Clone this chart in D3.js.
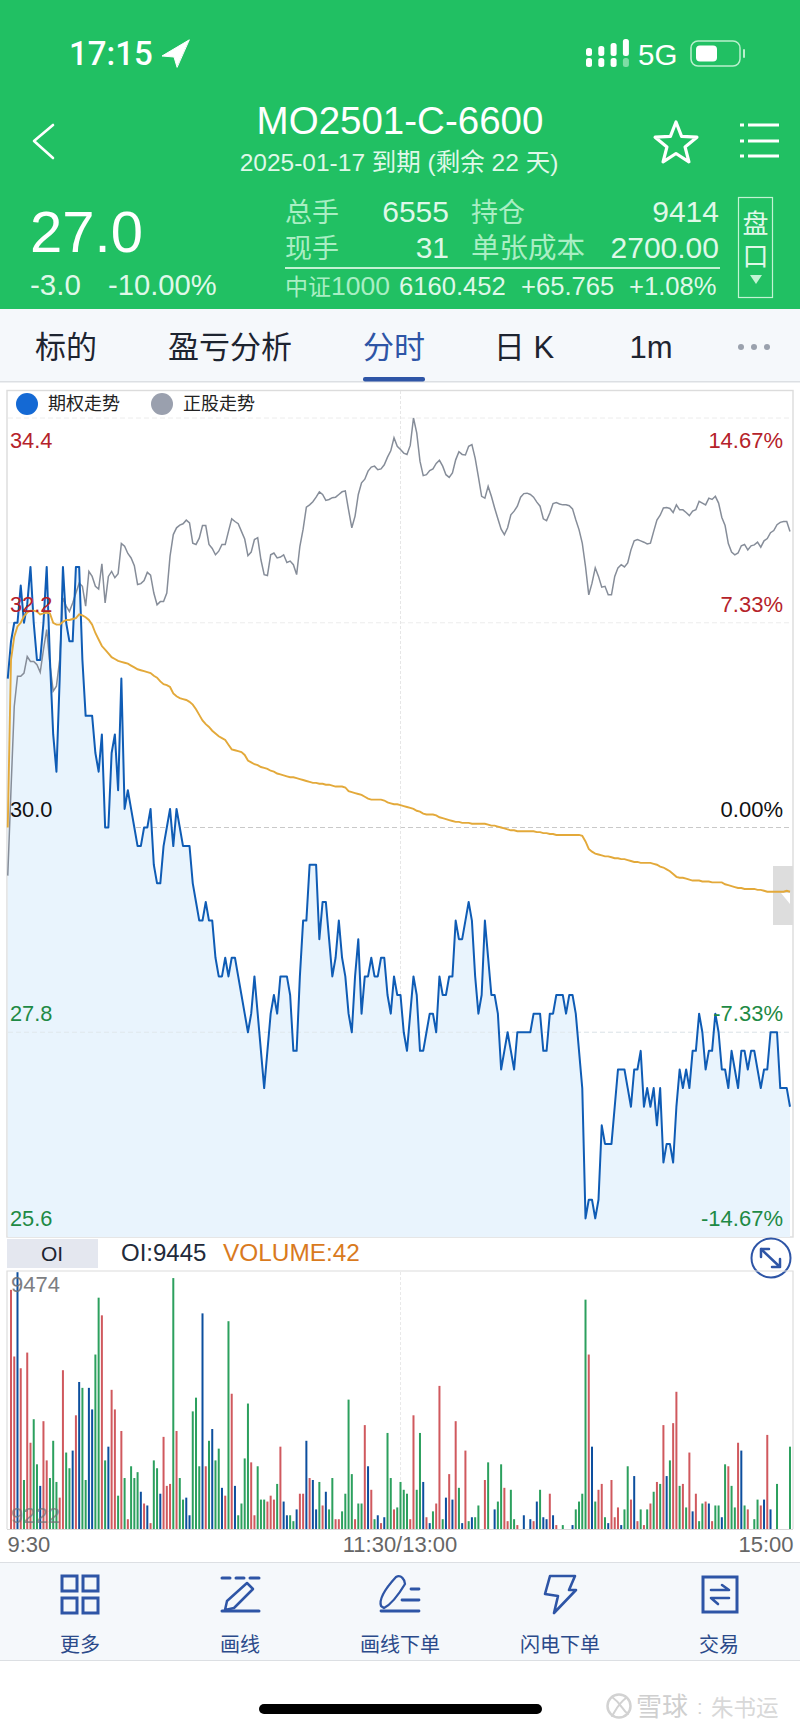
<!DOCTYPE html>
<html><head><meta charset="utf-8">
<script src="https://cdn.jsdelivr.net/npm/d3@7"></script>
<style>html,body{margin:0;padding:0;background:#fff}svg{display:block}
text{font-family:"Liberation Sans","Noto Sans CJK SC",sans-serif}</style></head>
<body><svg id="c" width="800" height="1731"></svg>
<script>
// first entry of each line series is the pre-open reading
const optionPrice=[31.6,32.0,32.2,32.2,32.6,32.2,32.4,32.8,32.2,31.8,31.8,32.2,32.8,31.8,31.0,30.6,31.6,32.8,32.2,32.0,32.0,32.8,32.8,31.8,31.2,31.2,31.2,30.8,30.6,31.0,30.0,30.0,30.8,31.0,30.4,31.6,30.2,30.4,30.2,30.0,29.8,29.8,30.0,30.0,30.2,29.6,29.4,29.4,29.8,30.0,30.2,29.8,30.2,30.0,29.8,29.8,29.8,29.4,29.2,29.0,29.0,29.2,29.0,29.0,28.6,28.4,28.4,28.6,28.4,28.6,28.6,28.4,28.2,28.0,27.8,28.0,28.4,28.0,27.6,27.2,27.6,28.0,28.2,28.0,28.4,28.4,28.4,28.2,27.6,27.6,28.4,29.0,29.0,29.6,29.6,29.6,28.8,29.2,29.2,28.8,28.4,28.6,29.0,28.6,28.4,28.0,27.8,28.4,28.8,28.0,28.4,28.4,28.6,28.4,28.4,28.6,28.6,28.2,28.0,28.4,28.2,28.2,27.8,27.6,28.0,28.4,28.2,27.6,27.6,27.8,28.0,28.0,27.8,28.4,28.2,28.2,28.4,28.4,29.0,28.8,28.8,29.0,29.2,29.0,28.4,28.0,28.2,29.0,28.6,28.2,28.2,28.0,27.4,27.6,27.8,27.6,27.4,27.8,27.8,27.8,27.8,27.8,28.0,28.0,28.0,27.6,27.6,28.0,28.0,28.2,28.2,28.2,28.0,28.2,28.2,28.0,27.6,27.2,25.8,26.0,26.0,25.8,26.0,26.8,26.6,26.6,26.6,27.0,27.4,27.4,27.4,27.2,27.0,27.4,27.4,27.6,27.0,27.2,27.0,27.2,26.8,27.2,26.4,26.6,26.6,26.4,27.0,27.4,27.2,27.4,27.2,27.6,27.6,28.0,27.8,27.4,27.6,27.6,28.0,27.8,27.4,27.4,27.2,27.6,27.4,27.2,27.6,27.6,27.4,27.6,27.6,27.4,27.2,27.4,27.4,27.8,27.8,27.8,27.2,27.2,27.2,27.0];
const averagePrice=[30.0,31.8,32.05,32.16,32.2,32.27,32.31,32.33,32.33,32.32,32.29,32.3,32.31,32.3,32.2,32.18,32.18,32.21,32.23,32.23,32.24,32.25,32.29,32.28,32.26,32.23,32.18,32.09,32.02,31.95,31.91,31.87,31.83,31.81,31.79,31.78,31.77,31.76,31.74,31.72,31.7,31.69,31.68,31.67,31.66,31.63,31.61,31.57,31.54,31.53,31.51,31.44,31.41,31.39,31.38,31.37,31.35,31.32,31.27,31.21,31.15,31.11,31.08,31.04,31.01,30.98,30.96,30.94,30.89,30.84,30.83,30.82,30.81,30.78,30.72,30.7,30.68,30.67,30.65,30.64,30.63,30.61,30.6,30.58,30.57,30.56,30.55,30.54,30.54,30.53,30.52,30.51,30.5,30.49,30.48,30.48,30.47,30.47,30.46,30.46,30.45,30.44,30.44,30.44,30.43,30.39,30.38,30.37,30.36,30.35,30.33,30.31,30.3,30.3,30.3,30.3,30.29,30.27,30.26,30.25,30.25,30.24,30.23,30.22,30.21,30.2,30.18,30.17,30.15,30.14,30.14,30.14,30.13,30.11,30.1,30.09,30.08,30.07,30.06,30.06,30.05,30.05,30.05,30.04,30.04,30.04,30.04,30.04,30.03,30.02,30.02,30.01,30.0,29.99,29.98,29.97,29.97,29.96,29.96,29.96,29.96,29.96,29.96,29.95,29.95,29.94,29.94,29.93,29.93,29.92,29.92,29.92,29.92,29.92,29.92,29.92,29.92,29.91,29.85,29.77,29.74,29.72,29.71,29.7,29.69,29.69,29.68,29.67,29.67,29.66,29.66,29.65,29.64,29.63,29.63,29.62,29.62,29.62,29.62,29.61,29.6,29.58,29.57,29.55,29.53,29.5,29.47,29.46,29.46,29.45,29.44,29.43,29.43,29.43,29.42,29.42,29.42,29.41,29.41,29.41,29.41,29.39,29.38,29.37,29.36,29.35,29.35,29.34,29.34,29.34,29.34,29.33,29.33,29.32,29.31,29.31,29.31,29.31,29.31,29.31,29.32,29.31];
const indexLevel=[6084.0,6103.1,6121.6,6128.3,6128.3,6129.0,6132.7,6131.6,6131.6,6130.9,6129.2,6134.2,6138.7,6130.9,6125.0,6126.1,6132.0,6145.7,6143.9,6142.7,6144.6,6146.8,6149.0,6148.3,6143.9,6151.6,6150.5,6148.3,6147.7,6153.3,6144.6,6150.5,6151.6,6150.2,6151.1,6157.8,6157.2,6155.6,6154.6,6152.9,6148.7,6148.9,6149.6,6151.4,6150.8,6146.8,6144.2,6144.9,6144.9,6146.8,6155.0,6159.8,6161.3,6161.9,6162.2,6163.0,6162.4,6157.9,6157.6,6159.0,6161.8,6161.8,6157.6,6156.7,6155.3,6156.1,6157.6,6157.6,6160.5,6163.3,6162.7,6162.2,6160.5,6158.8,6155.1,6155.9,6158.7,6159.1,6154.2,6150.9,6150.7,6155.3,6155.7,6154.6,6154.8,6155.3,6153.6,6153.9,6153.1,6150.9,6157.2,6161.0,6165.9,6166.4,6167.1,6168.1,6169.3,6168.7,6167.4,6167.6,6168.0,6168.1,6168.7,6169.3,6169.5,6165.3,6161.3,6163.9,6168.7,6171.3,6172.1,6173.9,6174.8,6175.0,6174.2,6174.4,6175.3,6177.0,6178.4,6181.3,6179.4,6178.7,6177.9,6177.6,6179.6,6185.7,6182.4,6176.1,6172.9,6173.1,6174.0,6174.4,6175.6,6176.3,6175.0,6173.1,6172.5,6173.5,6176.4,6178.2,6177.6,6177.5,6179.4,6179.8,6176.8,6172.6,6168.3,6167.9,6170.5,6168.3,6165.7,6163.3,6161.0,6159.8,6161.3,6164.2,6165.0,6166.1,6168.1,6168.9,6169.0,6168.7,6168.1,6167.0,6166.1,6163.3,6162.9,6164.6,6166.7,6166.9,6166.6,6166.4,6166.4,6166.2,6165.5,6163.1,6160.9,6157.9,6152.7,6146.4,6149.0,6152.4,6150.5,6148.1,6148.3,6146.4,6146.4,6150.5,6152.4,6153.1,6152.6,6153.5,6156.4,6158.4,6158.7,6158.4,6158.1,6157.7,6157.9,6160.5,6163.0,6164.1,6165.7,6165.8,6165.6,6164.7,6166.4,6165.3,6165.3,6164.7,6164.0,6165.0,6165.3,6167.2,6166.8,6166.4,6167.9,6167.6,6168.3,6166.8,6163.6,6161.8,6157.8,6155.9,6155.3,6155.7,6157.3,6157.6,6156.4,6157.3,6157.5,6158.1,6157.0,6158.4,6158.9,6160.2,6160.7,6162.0,6162.5,6162.7,6162.7,6160.5];
const volumes=[122,88,131,82,25,90,44,56,33,22,55,35,26,45,24,16,81,39,31,40,58,75,72,25,72,61,89,118,109,35,42,71,61,17,50,26,5,32,26,29,19,13,12,3,35,31,18,47,22,23,128,50,26,15,16,7,60,67,32,110,32,45,51,35,41,21,17,106,69,22,7,13,36,64,34,7,32,15,15,14,17,15,23,42,14,7,7,4,10,18,18,45,26,25,10,24,12,19,10,26,5,5,9,18,66,28,5,13,13,53,32,20,5,7,3,6,49,26,10,11,24,20,18,5,58,20,49,24,6,3,9,13,73,5,16,28,15,55,21,3,40,4,6,6,12,0,25,34,0,10,14,33,21,4,20,5,2,0,7,0,5,4,14,20,6,5,18,7,2,0,2,0,0,2,10,14,18,117,89,42,14,20,23,6,3,25,6,11,2,10,32,15,27,4,10,2,10,13,19,24,23,53,27,35,54,70,22,23,11,39,9,18,4,13,14,13,4,12,12,6,33,32,22,11,44,40,12,10,0,5,15,12,15,48,10,0,23,0,0,0,42];
const volumeKinds=("rrbrgrrggb"+"rrgggrrggb"+"rbggbbggrg"+"brrgrgrggg"+"brbrggbrrr"+"grggbbgggb"+"rgbggbrgrb"+"ggggrrgggr"+"rrgrbbggbr"+"rbrbbgrbgg"+"rrggggrggr"+"brgbrbggrg"+"gggrrggbrb"+"grrgbrbrgb"+"rgbgggrggb"+"ggrrggrgbg"+"brbgbbrbrg"+"gggbggggrb"+"grrgbrrrbg"+"grbrgrgrgr"+"grbgrrgrgr"+"brggrbrggb"+"grggrbgrgg"+"grbrbggggg"+"g").split("");
const priceTicks=[34.4,32.2,30.0,27.8,25.6];
const percentTicks=[14.67,7.33,0,-7.33,-14.67];
const timeTicks=[0,120,240];
const timeLabels=["9:30","11:30/13:00","15:00"];
const toolbarLabels=["更多","画线","画线下单","闪电下单","交易"];
const tabLabels=["标的","盈亏分析","分时","日 K","1m"];

const PRE=-1;
const svg=d3.select("#c");
const BLUE="#2e55a6",GREEN="#21c063",PALE="#a9eec3",SOFT="#dff8e8";
const x=d3.scaleLinear().domain([0,240]).range([11,790]);
const y=d3.scaleLinear().domain([25.6,34.4]).range([1237,418]);
const yIndex=d3.scaleLinear().domain([6003.7,6185.7]).range([1237,418]);
const yPct=d3.scaleLinear().domain([-14.67,14.67]).range([1237,418]);
const yVol=d3.scaleLinear().domain([0,131]).range([1529,1272.2]);
const mx=i=>x(i+PRE);

function T(px,py,s,size,fill,anchor,weight){
  return svg.append("text").attr("x",px).attr("y",py).attr("font-size",size).attr("fill",fill)
    .attr("text-anchor",anchor||"start").attr("font-weight",weight||400).text(s);
}
function R(px,py,w,h,fill,rx){return svg.append("rect").attr("x",px).attr("y",py).attr("width",w).attr("height",h).attr("fill",fill).attr("rx",rx||0);}
function P(d,stroke,sw,fill){return svg.append("path").attr("d",d).attr("fill",fill||"none").attr("stroke",stroke||"none").attr("stroke-width",sw||0).attr("stroke-linecap","round").attr("stroke-linejoin","round");}

// ---------- header
R(0,0,800,309,GREEN);
T(69,65,"17:15",33,"#fff","start",500).style("font-family","Roboto,'Liberation Sans',sans-serif");
P("M189,40 L162,56 L174,57 L177,67 Z","#fff",1,"#fff");
[0,1,2,3].forEach(k=>{
  R(586+k*12.3,58,6,9,k==3?"#7fdda5":"#fff",2.5);
  R(586+k*12.3,[48,46,43,39][k],6,[8,10,13,17][k],"#fff",2.5);
});
T(638,65,"5G",29.5,"#fff");
svg.append("rect").attr("x",691).attr("y",41).attr("width",49).attr("height",25).attr("rx",7).attr("fill","none").attr("stroke","#b9f0cd").attr("stroke-width",1.5);
R(696,45.5,21,16,"#fff",4);
R(743,49,2,9,"#b9f0cd",1);
P("M53,125 L34,141 L53,158","#fff",2.6);
T(400,134,"MO2501-C-6600",38.5,"#fff","middle");
T(399,171,"2025-01-17 到期 (剩余 22 天)",24.5,SOFT,"middle");
const star=d3.range(10).map(i=>{const a=-Math.PI/2+i*Math.PI/5,r=i%2?9.5:22;return [676+r*Math.cos(a),144+r*Math.sin(a)];});
P("M"+star.join("L")+"Z","#fff",3.2);
[125,141,156].forEach(py=>{R(740,py-1.5,4,3,"#fff");R(748,py-1.5,31,3,"#fff");});
T(30,252,"27.0",58,"#fff");
T(30,295,"-3.0",29.5,SOFT);
T(108,295,"-10.00%",29.2,SOFT);
T(285,222,"总手",27,PALE);
T(449,222,"6555",30,SOFT,"end");
T(471,222,"持仓",27,PALE);
T(719,222,"9414",30,SOFT,"end");
T(285,258,"现手",27,PALE);
T(449,258,"31",30,SOFT,"end");
T(471,258,"单张成本",28.5,PALE);
T(719,258,"2700.00",30,SOFT,"end");
R(285,267,435,2,"#c2f3d3");
T(285,295,"中证",23,PALE);
T(331,295,"1000",26.5,PALE);
T(399,295,"6160.452",25.6,SOFT);
T(521,295,"+65.765",25.6,SOFT);
T(629,295,"+1.08%",25.6,SOFT);
svg.append("rect").attr("x",738.5).attr("y",197.5).attr("width",34).attr("height",100).attr("fill","none").attr("stroke","#c2f3d3").attr("stroke-width",1.2);
T(755.5,233,"盘",26,SOFT,"middle");
T(755.5,266,"口",26,SOFT,"middle");
P("M750,275 L762,275 L756,284 Z",null,0,"#c2f3d3");

// ---------- tabs
R(0,309,800,73,"#f5f8fb");
R(0,381,800,1.5,"#dcdfe3");
const tabX=[66,230,394,524,651];
tabLabels.forEach((s,i)=>T(tabX[i],358,s,31,i==2?BLUE:"#1d2430","middle"));
R(363,377,62,4.5,BLUE,2);
[741,754,767].forEach(c=>svg.append("circle").attr("cx",c).attr("cy",347).attr("r",3).attr("fill","#9aa1ad"));

// ---------- price chart frame and grid
const frame=svg.append("g").attr("fill","none").attr("stroke","#dcdcdc").attr("stroke-width",1.4);
frame.append("rect").attr("x",7).attr("y",390.5).attr("width",786).attr("height",846.5);
priceTicks.slice(0,4).forEach(v=>{
  svg.append("line").attr("x1",8).attr("x2",792).attr("y1",y(v)).attr("y2",y(v))
    .attr("stroke",v==30?"#c9c9c9":"#ececec").attr("stroke-width",1).attr("stroke-dasharray","5 3");
});
svg.append("line").attr("x1",400.5).attr("x2",400.5).attr("y1",391).attr("y2",1236).attr("stroke","#e6e6e6").attr("stroke-dasharray","3 2");
svg.append("circle").attr("cx",27).attr("cy",404).attr("r",11).attr("fill","#1469d4");
T(48,410,"期权走势",18,"#222");
svg.append("circle").attr("cx",162).attr("cy",404).attr("r",11).attr("fill","#9aa0ae");
T(183,410,"正股走势",18,"#222");

// ---------- series
const area=d3.area().x((d,i)=>mx(i)).y0(y(25.6)).y1(d=>y(d));
svg.append("path").attr("d",area(optionPrice)).attr("fill","#e9f4fd");
svg.append("line").attr("x1",8).attr("x2",792).attr("y1",y(27.8)).attr("y2",y(27.8)).attr("stroke","#e0e7ec").attr("stroke-dasharray","5 3");
const lineP=d3.line().x((d,i)=>mx(i)).y(d=>y(d));
const lineI=d3.line().x((d,i)=>mx(i)).y(d=>yIndex(d));
svg.append("path").attr("d",lineI(indexLevel)).attr("fill","none").attr("stroke","#868d99").attr("stroke-width",1.5);
svg.append("path").attr("d",lineP(optionPrice)).attr("fill","none").attr("stroke","#0f5cb5").attr("stroke-width",2).attr("stroke-linejoin","round");

// handle
R(773,866,20,59,"#dddddd");
P("M781,893 L790,893 L790,904 Z",null,0,"#fff");
svg.append("path").attr("d",lineP(averagePrice)).attr("fill","none").attr("stroke","#e3a93a").attr("stroke-width",1.9);

// ---------- axes as labels
const tickColor=v=>v>30?"#b5222a":v<30?"#1e8a45":"#111";
const gL=svg.append("g").attr("transform","translate(10,0)").call(d3.axisRight(y).tickValues(priceTicks).tickSize(0).tickPadding(0).tickFormat(d3.format(".1f")));
gL.select(".domain").remove();
gL.selectAll("text").attr("font-size",21.8).attr("dy",0).attr("y",v=>v==34.4?29:-11.5).attr("x",0).attr("fill",tickColor).attr("text-anchor","start");
const gR=svg.append("g").attr("transform","translate(783,0)").call(d3.axisLeft(yPct).tickValues(percentTicks).tickSize(0).tickPadding(0).tickFormat(d=>d.toFixed(2)+"%"));
gR.select(".domain").remove();
gR.selectAll("text").attr("font-size",22).attr("dy",0).attr("x",0).attr("text-anchor","end")
  .attr("y",d=>d==14.67?29:-11.5).attr("fill",d=>d>0?"#b5222a":d<0?"#1e8a45":"#111");

// ---------- volume panel
R(7,1239,91,29,"#e4e7ef");
T(52,1261,"OI",21,"#1d2430","middle");
T(121,1261,"OI:9445",24,"#222a3a");
T(223,1261,"VOLUME:42",24.4,"#d97a1e");
svg.append("circle").attr("cx",771).attr("cy",1258).attr("r",19.5).attr("fill","#fff").attr("stroke",BLUE).attr("stroke-width",2);
P("M761,1249 L780,1267 M761,1257 L761,1249 L769,1249 M772,1267 L780,1267 L780,1259",BLUE,2.5);
svg.append("g").attr("fill","none").attr("stroke","#dcdcdc").attr("stroke-width",1.2)
  .append("path").attr("d","M7,1529 V1271 H793 V1529");
svg.append("line").attr("x1",400.5).attr("x2",400.5).attr("y1",1272).attr("y2",1529).attr("stroke","#e9e9e9").attr("stroke-dasharray","3 2");
const barColor={r:"#d0595e",g:"#2ca05e",b:"#0d4f9e"};
svg.append("g").selectAll("rect").data(volumes).join("rect")
  .attr("x",(d,i)=>x(i)-1).attr("width",2)
  .attr("y",d=>yVol(d)).attr("height",d=>yVol(0)-yVol(d))
  .attr("fill",(d,i)=>barColor[volumeKinds[i]]);
T(11,1292,"9474",22,"#6f7175").attr("opacity",.9);
T(11,1523,"9222",22,"#6f7175").attr("opacity",.7);
svg.append("line").attr("x1",7).attr("x2",793).attr("y1",1529.5).attr("y2",1529.5).attr("stroke","#d8d8d8");
const gT=svg.append("g").attr("transform","translate(0,1530)").call(d3.axisBottom(x).tickValues(timeTicks).tickSize(0).tickPadding(0).tickFormat((d,i)=>timeLabels[i]));
gT.select(".domain").remove();
gT.selectAll("text").attr("font-size",22).attr("fill","#666").attr("dy",0).attr("y",22)
  .attr("text-anchor",(d,i)=>["start","middle","end"][i]).attr("x",(d,i)=>[-4,-1,3][i]);

// ---------- toolbar
R(0,1562,800,98,"#f5f8fb");
svg.append("path").attr("d","M0,1562.5 H800 M0,1660.5 H800").attr("stroke","#dcdfe3").attr("stroke-width",1.2);
const toolX=[80,240,400,560,719];
toolbarLabels.forEach((s,i)=>T(toolX[i],1652,s,20,"#2b4a8a","middle"));
const ic=BLUE;
[[62,1576],[83,1576],[62,1598],[83,1598]].forEach(([a,b])=>svg.append("rect").attr("x",a).attr("y",b).attr("width",15).attr("height",15).attr("fill","none").attr("stroke",ic).attr("stroke-width",3));
P("M222,1578 H230 M236,1578 H244 M250,1578 H259",ic,3);
P("M227,1601 L247,1583 L253,1589 L234,1608 L225,1610 Z",ic,2.5);
P("M222,1611 H259",ic,3);
P("M381,1606 C379,1600 384,1590 396,1577 C401,1574 405,1580 405,1584 C399,1594 392,1604 384,1608 Z",ic,2.3);
P("M411,1589 H419 M402,1600 H419 M381,1611 H419",ic,2.8);
P("M550,1576 H575 L569,1590 L576,1590 L554,1613 L558,1596 L545,1594 Z",ic,2.6);
svg.append("rect").attr("x",703).attr("y",1577).attr("width",34).attr("height",35).attr("fill","none").attr("stroke",ic).attr("stroke-width",3);
P("M711,1590 H729 L722,1585 M729,1598 H711 L718,1604",ic,2.6);

// ---------- home bar and watermark
R(259,1704,283,10,"#000",5);
svg.append("circle").attr("cx",619).attr("cy",1706).attr("r",11.5).attr("fill","none").attr("stroke","#d2d2d2").attr("stroke-width",2.5);
P("M612,1697 C622,1704 622,1710 628,1714 M626,1698 C618,1704 616,1710 612,1716","#d2d2d2",2);
T(636,1716,"雪球",26,"#cfcfcf");
T(697,1714,":",20,"#d2d2d2");
T(711,1716,"朱书运",22.5,"#d8d8d8");
</script></body></html>
